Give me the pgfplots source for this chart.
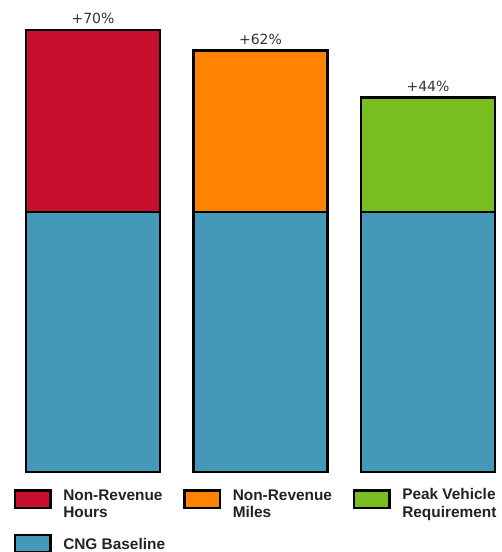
\documentclass[border=0pt]{standalone}
\usepackage{pgfplots}
\pgfplotsset{compat=1.18}
\usepackage{fontspec}
\setmainfont{Liberation Sans}
\newfontfamily\dejavu{DejaVu Sans}
\definecolor{cred}{RGB}{200,16,46}
\definecolor{corange}{RGB}{255,130,0}
\definecolor{cgreen}{RGB}{120,190,32}
\definecolor{cblue}{RGB}{68,152,184}
\definecolor{ctext}{RGB}{34,34,34}
\definecolor{clabel}{RGB}{51,51,51}
\pgfplotsset{
  common/.style={at={(0,0)}, anchor=south west,
    scale only axis, width=502pt, height=472pt, hide axis,
    xmin=-0.555, xmax=2.442, ymin=0, ymax=1.815},
  legimg/.style={legend image code/.code={
    \draw[fill=#1,draw=black,line width=2.5pt] (0pt,-8.75pt) rectangle (35.5pt,8.75pt);
    \path[draw=none,fill=none] (-1.25pt,0) rectangle (48.25pt,0);}},
}
\begin{document}
\begin{tikzpicture}[x=1pt,y=1pt]
\useasboundingbox (0,-80) rectangle (502,472);
\begin{axis}[common,
  ybar stacked, bar width=134pt,
  every axis plot/.append style={draw=black, line width=2.5pt},
  legend style={at={(0.0274,-0.035)}, anchor=north west, draw=none, fill=none,
    inner sep=0pt, outer sep=0pt, legend columns=3, column sep=0pt, row sep=24pt,
    font=\bfseries\fontsize{15.4}{17.5}\selectfont, text=ctext,
    nodes={inner sep=0pt}},
  legend cell align=left,
]
\addplot[fill=cblue, forget plot] coordinates {(0,1) (1,1) (2,1)};
\addplot[fill=cred, forget plot] coordinates {(0,0.70) (1,0) (2,0)};
\addplot[fill=corange, forget plot] coordinates {(0,0) (1,0.62) (2,0)};
\addplot[fill=cgreen, forget plot] coordinates {(0,0) (1,0) (2,0.44)};
\addlegendimage{legimg=cred}
\addlegendentry{\parbox{120pt}{\raggedright Non-Revenue\\Hours}}
\addlegendimage{legimg=corange}
\addlegendentry{\parbox{120pt}{\raggedright Non-Revenue\\Miles}}
\addlegendimage{legimg=cgreen}
\addlegendentry{\parbox{120pt}{\raggedright Peak Vehicle\\Requirement}}
\addlegendimage{legimg=cblue}
\addlegendentry{\parbox{120pt}{\raggedright CNG Baseline}}
\end{axis}
\begin{axis}[common]
\addplot[draw=none, mark=none, nodes near coords, point meta=explicit symbolic,
  nodes near coords style={anchor=south, inner sep=0pt, yshift=6pt, text=clabel,
    font=\dejavu\fontsize{14}{16}\selectfont}]
  coordinates {(0,1.70) [+70\%] (1,1.62) [+62\%] (2,1.44) [+44\%]};
\end{axis}
\end{tikzpicture}
\end{document}
